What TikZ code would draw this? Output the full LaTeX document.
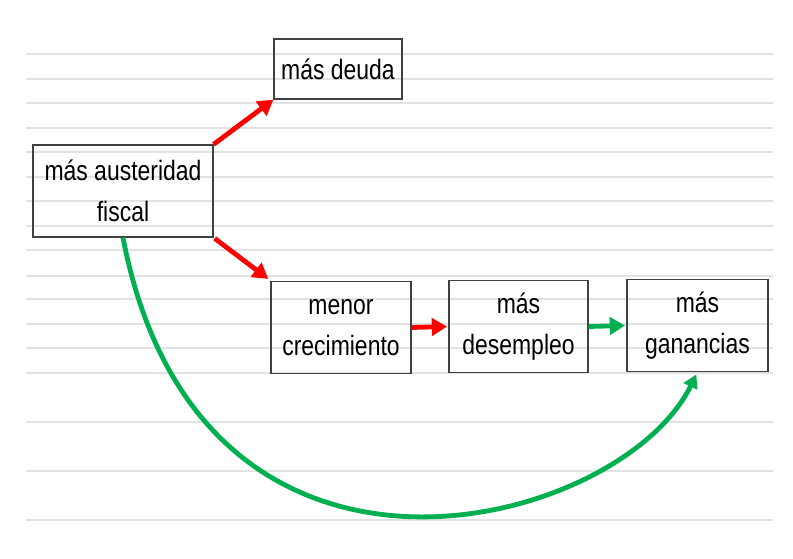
\documentclass[tikz,border=0pt]{standalone}
\usepackage{fontspec}
\setmainfont{Liberation Sans}[FakeStretch=0.82]
\usetikzlibrary{arrows.meta}

\definecolor{arrowred}{RGB}{255,0,0}
\definecolor{arrowgreen}{RGB}{0,176,80}
\definecolor{ruleline}{RGB}{226,226,226}

\tikzset{
  effect/.style={draw=black!75, line width=0.9pt, align=center, inner sep=0pt,
    font=\fontsize{21}{30.5}\selectfont},
  redarrow/.style={draw=arrowred, line width=3.6pt, -{Triangle[length=11.5pt,width=13pt]}},
  greenarrow/.style={draw=arrowgreen, line width=3.6pt, -{Triangle[length=11.5pt,width=13pt]}}
}

\begin{document}
\begin{tikzpicture}[x=0.75pt, y=-0.75pt]
\useasboundingbox (0,0) rectangle (793,559);
% ruled lines of the sheet
\foreach \ly in {54,79,103,128,152,177,201,226,250,276,299,324,348,373,422,471,520}
    \draw[ruleline, line width=0.8pt] (26,\ly) -- (773,\ly);

\node[effect, minimum width=135pt, minimum height=69pt] (austeridad) at (123,191) {más austeridad\\fiscal};
\node[effect, minimum width=96pt, minimum height=45pt] (deuda) at (338,69) {más deuda};
\node[effect, minimum width=105pt, minimum height=69.5pt] (menor) at (341,327.5) {menor\\crecimiento};
\node[effect, minimum width=104.25pt, minimum height=69pt] (desempleo) at (518.5,326.5) {más\\desempleo};
\node[effect, minimum width=105.75pt, minimum height=69pt] (ganancias) at (697.5,325.5) {más\\ganancias};

\draw[redarrow] (austeridad.north east) -- (deuda.south west);
\draw[redarrow, shorten <=1pt, shorten >=2pt] (austeridad.south east) -- (menor.north west);
\draw[redarrow, shorten >=1pt] (menor.east) -- (desempleo.west);
\draw[greenarrow, shorten >=1pt] (desempleo.east) -- (ganancias.west);
\draw[greenarrow, line width=3.6pt, -{Triangle[length=10pt,width=11pt]}, shorten >=2pt]
    (austeridad.south) .. controls (200,640) and (620,530) .. (ganancias.south);
\end{tikzpicture}
\end{document}
